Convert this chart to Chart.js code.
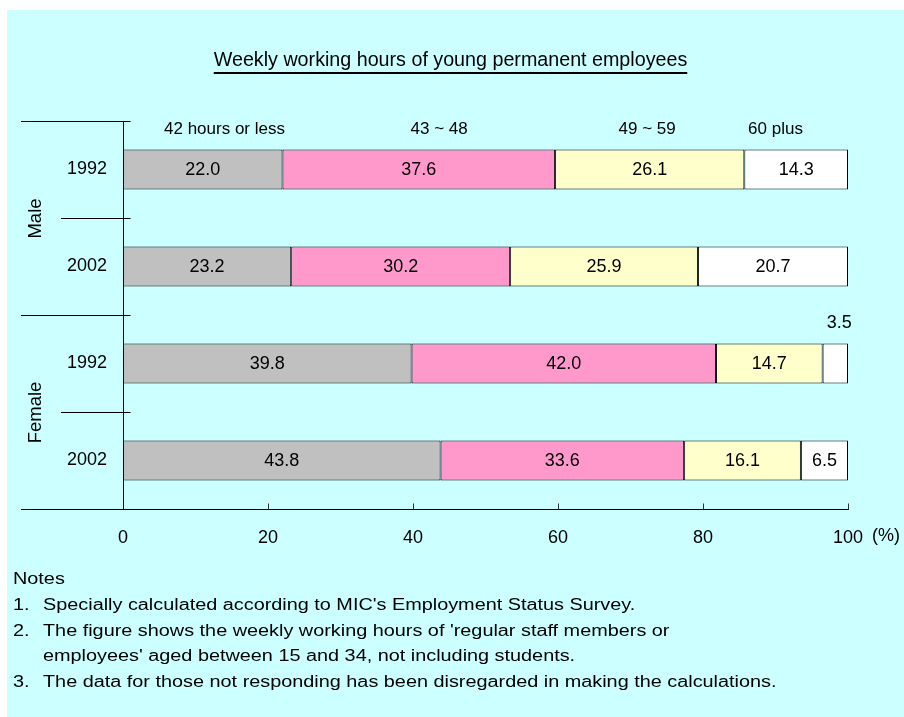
<!DOCTYPE html>
<html>
<head>
<meta charset="utf-8">
<script src="https://cdn.jsdelivr.net/npm/chart.js@4.4.0/dist/chart.umd.min.js"></script>
<style>
  body { margin: 0; background: #fff; font-family: Arial, "Liberation Sans", sans-serif; }
  #wrap { position: relative; width: 904px; height: 717px; overflow: hidden; }
  #bg { position: absolute; left: 7px; top: 10px; width: 897px; height: 707px; background: #ccffff; }
  #chart { position: absolute; left: 0; top: 0; }
  .txt { position: absolute; color: #000; white-space: nowrap; line-height: 1; }
  #title { left: 0; width: 901px; top: 50px; text-align: center; font-size: 19.7px; }
  #title span { text-decoration: underline; text-decoration-thickness: 2px; text-underline-offset: 6px; }
  .note { font-size: 16px; transform: scaleX(1.24); transform-origin: 0 0; }
</style>
</head>
<body>
<div id="wrap">
  <div id="bg"></div>
  <canvas id="chart" width="904" height="717"></canvas>
  <div id="title" class="txt"><span>Weekly working hours of young permanent employees</span></div>
  <div class="txt note" style="left:13px; top:571px;">Notes</div>
  <div class="txt note" style="left:13px; top:597px;">1.</div>
  <div class="txt note" style="left:43px; top:597px;">Specially calculated according to MIC's Employment Status Survey.</div>
  <div class="txt note" style="left:13px; top:623px;">2.</div>
  <div class="txt note" style="left:43px; top:623px;">The figure shows the weekly working hours of 'regular staff members or</div>
  <div class="txt note" style="left:43px; top:648px;">employees' aged between 15 and 34, not including students.</div>
  <div class="txt note" style="left:13px; top:674px;">3.</div>
  <div class="txt note" style="left:43px; top:674px;">The data for those not responding has been disregarded in making the calculations.</div>
</div>
<script>
// Categorias e séries
const categories = ['1992', '2002', '1992', '2002'];
const groups = ['Male', 'Female'];
const seriesNames = ['42 hours or less', '43 ~ 48', '49 ~ 59', '60 plus'];
const hoursUpTo42 = [22.0, 23.2, 39.8, 43.8];
const hours43to48 = [37.6, 30.2, 42.0, 33.6];
const hours49to59 = [26.1, 25.9, 14.7, 16.1];
const hours60plus = [14.3, 20.7, 3.5, 6.5];
const xTicks = [0, 20, 40, 60, 80, 100];

const seriesColors = ['#c0c0c0', '#ff99cc', '#ffffcc', '#ffffff'];
// posição (em %) dos rótulos das séries acima da primeira barra
const headerAt = [14, 43.6, 72.3, 90];
const numFont = '18px Arial, "Liberation Sans", sans-serif';
const textFont = '17px Arial, "Liberation Sans", sans-serif';
const groupFont = '18.5px Arial, "Liberation Sans", sans-serif';

const decorPlugin = {
    id: 'decor',
    afterDraw(chart) {
        const ctx = chart.ctx;
        const xs = chart.scales.x;
        const ys = chart.scales.y;
        const area = chart.chartArea;
        const px = v => Math.round(v) + 0.5;

        ctx.save();
        ctx.strokeStyle = '#000';
        ctx.lineWidth = 1;
        const line = (x1, y1, x2, y2) => {
            ctx.beginPath();
            ctx.moveTo(x1, y1);
            ctx.lineTo(x2, y2);
            ctx.stroke();
        };

        // linhas de separação das categorias
        const axisX = px(area.left);
        const top = px(area.top);
        const bottom = px(area.bottom);
        const mid01 = px((ys.getPixelForValue(0) + ys.getPixelForValue(1)) / 2);
        const mid12 = px((ys.getPixelForValue(1) + ys.getPixelForValue(2)) / 2);
        const mid23 = px((ys.getPixelForValue(2) + ys.getPixelForValue(3)) / 2);
        line(21, top, axisX + 7, top);
        line(61, mid01, axisX + 7, mid01);
        line(21, mid12, axisX + 7, mid12);
        line(61, mid23, axisX + 7, mid23);
        line(21, bottom, axisX, bottom);

        // marcas do eixo x (para dentro)
        ctx.strokeStyle = '#333';
        xTicks.forEach(t => {
            if (t === 0) return;
            const x = px(xs.getPixelForValue(t));
            line(x, bottom, x, bottom - 6);
        });

        // rótulos de grupo (rotacionados)
        ctx.fillStyle = '#000';
        ctx.font = groupFont;
        ctx.textAlign = 'center';
        ctx.textBaseline = 'middle';
        [mid01, mid23].forEach((yy, i) => {
            ctx.save();
            ctx.translate(36, yy);
            ctx.rotate(-Math.PI / 2);
            ctx.fillText(groups[i], 0, 0);
            ctx.restore();
        });

        // nomes das séries
        ctx.font = textFont;
        const firstBar = chart.getDatasetMeta(0).data[0];
        const headerY = firstBar.y - firstBar.height / 2 - 20;
        seriesNames.forEach((name, i) => {
            ctx.fillText(name, xs.getPixelForValue(headerAt[i]), headerY);
        });

        // valores dentro das barras
        ctx.font = numFont;
        chart.data.datasets.forEach((ds, di) => {
            chart.getDatasetMeta(di).data.forEach((bar, i) => {
                const w = Math.abs(bar.x - bar.base);
                const cx = (bar.x + bar.base) / 2;
                const label = ds.data[i].toFixed(1);
                if (w < 30) {
                    ctx.fillText(label, cx + 4, bar.y - bar.height / 2 - 21);
                } else {
                    ctx.fillText(label, cx, bar.y + 1);
                }
            });
        });

        // unidade do eixo x
        ctx.textAlign = 'left';
        ctx.textBaseline = 'middle';
        const x100 = xs.getPixelForValue(100);
        ctx.fillText('(%)', x100 + ctx.measureText('100').width / 2 + 9, 536);
        ctx.restore();
    }
};

const datasets = [hoursUpTo42, hours43to48, hours49to59, hours60plus].map((vals, i) => ({
    label: seriesNames[i],
    data: vals,
    backgroundColor: seriesColors[i],
    borderColor: '#000',
    borderWidth: 1,
    borderSkipped: false,
    barPercentage: 0.41,
    categoryPercentage: 1
}));

new Chart(document.getElementById('chart'), {
    type: 'bar',
    data: { labels: categories, datasets: datasets },
    options: {
        indexAxis: 'y',
        responsive: false,
        animation: false,
        layout: { padding: { left: 0, top: 121, right: 56, bottom: 168 } },
        plugins: { legend: { display: false }, tooltip: { enabled: false } },
        scales: {
            x: {
                stacked: true,
                min: 0,
                max: 100,
                afterBuildTicks: scale => { scale.ticks = xTicks.map(v => ({ value: v })); },
                grid: { display: false, drawTicks: false },
                border: { display: true, color: '#000', width: 1 },
                ticks: { color: '#000', font: { size: 18, family: 'Arial, "Liberation Sans", sans-serif' }, padding: 18 },
                afterFit: scale => { scale.height = 40; }
            },
            y: {
                stacked: true,
                grid: { display: false, drawTicks: false },
                border: { display: true, color: '#000', width: 1 },
                ticks: { color: '#000', font: { size: 18, family: 'Arial, "Liberation Sans", sans-serif' }, padding: 16 },
                afterFit: scale => { scale.width = 123; }
            }
        }
    },
    plugins: [decorPlugin]
});
</script>
</body>
</html>
